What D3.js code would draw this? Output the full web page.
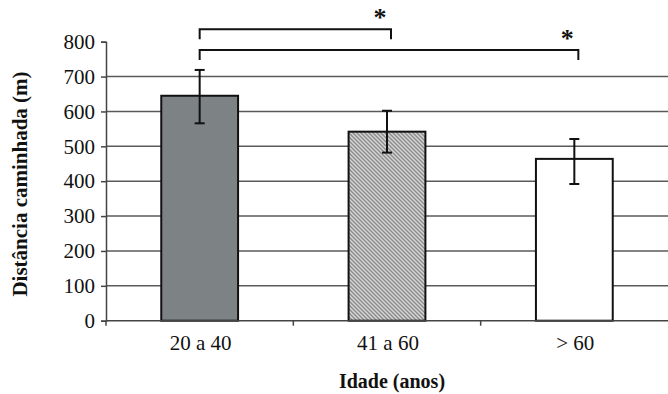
<!DOCTYPE html>
<html>
<head>
<meta charset="utf-8">
<script src="https://cdn.jsdelivr.net/npm/d3@7"></script>
<style>
  body { margin: 0; background: #fff; }
  svg { display: block; }
  svg text { font-family: "Liberation Serif", "Times New Roman", serif; }
</style>
</head>
<body>
<svg id="chart" width="668" height="394"></svg>
<script>
// chart data
const categories = ["20 a 40", "41 a 60", "> 60"];
const means = [645, 542, 464];
const errLow = [566, 482, 392];
const errHigh = [719, 602, 521];
const yTicks = [0, 100, 200, 300, 400, 500, 600, 700, 800];
// significance brackets: [from, to], level in axis units
const sigPairs = [[0, 1], [0, 2]];
const sigLevels = [836, 776];

const serif = "'Liberation Serif', 'Times New Roman', serif";
const width = 668, height = 394;
const margin = { top: 41.7, right: 0, bottom: 73.3, left: 106 };

const svg = d3.select("#chart");

// hatch pattern for the middle bar
const defs = svg.append("defs");
const pat = defs.append("pattern")
  .attr("id", "hatch")
  .attr("patternUnits", "userSpaceOnUse")
  .attr("width", 4)
  .attr("height", 4);
pat.append("rect").attr("width", 4).attr("height", 4).attr("fill", "#d4d4d4");
pat.append("path")
  .attr("d", "M-1,-1 L5,5 M-1,3 L1,5 M3,-1 L5,1")
  .attr("stroke", "#8a8a8a")
  .attr("stroke-width", 1.3);

const fills = ["#7d8385", "url(#hatch)", "#ffffff"];

const x = d3.scaleBand()
  .domain(categories)
  .range([margin.left, width - margin.right])
  .padding(0);

const y = d3.scaleLinear()
  .domain([0, 800])
  .range([height - margin.bottom, margin.top]);

// gridlines
svg.append("g")
  .selectAll("line")
  .data(yTicks.filter(d => d > 0 && d < 800))
  .enter()
  .append("line")
  .attr("x1", margin.left)
  .attr("x2", width)
  .attr("y1", d => y(d))
  .attr("y2", d => y(d))
  .attr("stroke", "#5a5a5a")
  .attr("stroke-width", 1.5);

// y axis
const yAxis = svg.append("g")
  .attr("transform", "translate(" + margin.left + ",0)")
  .call(d3.axisLeft(y).tickValues(yTicks).tickSize(5).tickPadding(6));
yAxis.select(".domain").attr("stroke", "#444").attr("stroke-width", 1.5);
yAxis.selectAll(".tick line").attr("stroke", "#444").attr("stroke-width", 1.5);
yAxis.selectAll("text")
  .style("font-family", serif)
  .style("font-size", "21px")
  .attr("fill", "#111");

// bars
const barW = x.bandwidth() * 0.41;
svg.append("g")
  .selectAll("rect")
  .data(categories)
  .enter()
  .append("rect")
  .attr("x", d => x(d) + x.bandwidth() / 2 - barW / 2)
  .attr("y", (d, i) => y(means[i]))
  .attr("width", barW)
  .attr("height", (d, i) => y(0) - y(means[i]))
  .attr("fill", (d, i) => fills[i])
  .attr("stroke", "#111")
  .attr("stroke-width", 2);

// x axis line and category separators
svg.append("line")
  .attr("x1", margin.left)
  .attr("x2", width)
  .attr("y1", y(0))
  .attr("y2", y(0))
  .attr("stroke", "#444")
  .attr("stroke-width", 1.5);

svg.append("g")
  .selectAll("line")
  .data(categories)
  .enter()
  .append("line")
  .attr("x1", d => x(d))
  .attr("x2", d => x(d))
  .attr("y1", y(0))
  .attr("y2", y(0) + 5)
  .attr("stroke", "#444")
  .attr("stroke-width", 1.5);

svg.append("g")
  .selectAll("text")
  .data(categories)
  .enter()
  .append("text")
  .attr("x", d => x(d) + x.bandwidth() / 2 + 1)
  .attr("y", y(0) + 29)
  .attr("text-anchor", "middle")
  .style("font-family", serif)
  .style("font-size", "21px")
  .attr("fill", "#111")
  .text(d => d);

// error bars
const eb = svg.append("g").attr("stroke", "#111").attr("stroke-width", 2);
categories.forEach((c, i) => {
  const cx = x(c) + x.bandwidth() / 2;
  eb.append("line").attr("x1", cx).attr("x2", cx)
    .attr("y1", y(errHigh[i])).attr("y2", y(errLow[i]));
  eb.append("line").attr("x1", cx - 5).attr("x2", cx + 5)
    .attr("y1", y(errHigh[i])).attr("y2", y(errHigh[i]));
  eb.append("line").attr("x1", cx - 5).attr("x2", cx + 5)
    .attr("y1", y(errLow[i])).attr("y2", y(errLow[i]));
});

// significance brackets
sigPairs.forEach((p, i) => {
  const x1 = x(categories[p[0]]) + x.bandwidth() / 2;
  const x2 = x(categories[p[1]]) + x.bandwidth() / 2 + 4;
  const yl = y(sigLevels[i]);
  svg.append("path")
    .attr("d", `M${x1},${yl + 10} V${yl} H${x2} V${yl + 10}`)
    .attr("fill", "none")
    .attr("stroke", "#111")
    .attr("stroke-width", 2);
  svg.append("text")
    .attr("x", x2 - 11)
    .attr("y", yl - 3)
    .attr("text-anchor", "middle")
    .style("font-family", serif)
    .style("font-size", "26px")
    .style("font-weight", "bold")
    .attr("fill", "#111")
    .text("*");
});

// axis titles
svg.append("text")
  .attr("x", x.range()[0] + (x.range()[1] - x.range()[0]) / 2 + 5)
  .attr("y", 388)
  .attr("text-anchor", "middle")
  .style("font-family", serif)
  .style("font-size", "20px")
  .style("font-weight", "bold")
  .attr("fill", "#111")
  .text("Idade (anos)");

svg.append("text")
  .attr("transform", "rotate(-90)")
  .attr("x", -184)
  .attr("y", 27)
  .attr("text-anchor", "middle")
  .style("font-family", serif)
  .style("font-size", "21px")
  .style("font-weight", "bold")
  .attr("fill", "#111")
  .text("Distância caminhada (m)");
</script>
</body>
</html>
